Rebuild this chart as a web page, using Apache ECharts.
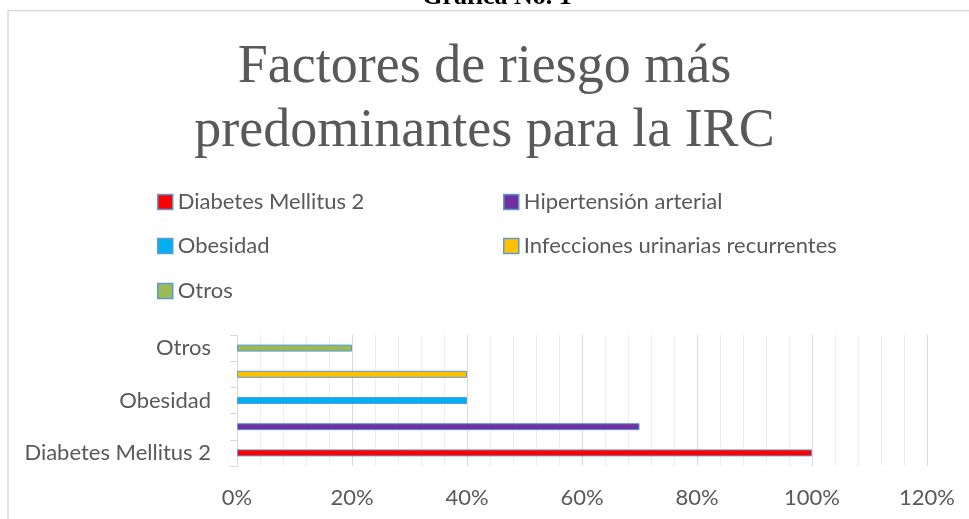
<!DOCTYPE html>
<html>
<head>
<meta charset="utf-8">
<script src="https://cdn.jsdelivr.net/npm/echarts@6/dist/echarts.min.js"></script>
<style>html,body{margin:0;padding:0;background:#fff;}#c{width:969px;height:519px;}</style>
</head>
<body>
<div id="c"></div>
<script>
const categories = ['Diabetes Mellitus 2', 'Hipertensión arterial', 'Obesidad', 'Infecciones urinarias recurrentes', 'Otros'];
const values = [1.0, 0.7, 0.4, 0.4, 0.2];
const colors = ['#ff0000', '#7030a0', '#00b0f0', '#ffc000', '#9bbb59'];
const axisMax = 1.2;
const axisStep = 0.2;
const titleText = 'Factores de riesgo más\npredominantes para la IRC';
const captionText = 'Grafica No. 1';

const FONT = 'Lato';
const TXT = '#595959';
const FS = 22;

const legendPos = [
  {left: 157, top: 191},
  {left: 503, top: 191},
  {left: 157, top: 235},
  {left: 503, top: 235},
  {left: 157, top: 280}
];

const chart = echarts.init(document.getElementById('c'), null, {renderer: 'canvas'});
chart.setOption({
  animation: false,
  backgroundColor: '#fff',
  title: {
    text: titleText,
    left: 'center',
    top: 31,
    textStyle: {fontFamily: 'Liberation Serif', fontWeight: 'normal', fontSize: 54, lineHeight: 64, color: TXT}
  },
  graphic: [
    {type: 'rect', shape: {x: 8, y: 10.5, width: 2000, height: 2000}, style: {fill: 'none', stroke: '#d9d9d9', lineWidth: 1.5}, silent: true},
    {type: 'text', x: 497, y: -3, style: {text: captionText, font: 'bold 26px "Liberation Serif"', fill: '#000', align: 'center', verticalAlign: 'middle'}}
  ],
  legend: categories.map((name, i) => ({
    data: [name],
    left: legendPos[i].left,
    top: legendPos[i].top,
    padding: 0,
    icon: 'rect',
    itemWidth: 15,
    itemHeight: 15,
    itemStyle: {borderColor: '#5b9bd5', borderWidth: 1.5},
    textStyle: {fontFamily: FONT, fontSize: FS, color: TXT, lineHeight: 15},
    selectedMode: false
  })),
  grid: {left: 237, right: 42, top: 335, bottom: 53, containLabel: false},
  xAxis: {
    type: 'value',
    min: 0,
    max: axisMax,
    interval: axisStep,
    axisLine: {show: false},
    axisTick: {show: false},
    axisLabel: {margin: 21, fontFamily: FONT, fontSize: FS, color: TXT, formatter: v => Math.round(v * 100) + '%'},
    splitLine: {show: true, lineStyle: {color: '#d9d9d9', width: 1}},
    minorTick: {show: false, splitNumber: 5},
    minorSplitLine: {show: true, lineStyle: {color: '#ededed', width: 1}}
  },
  yAxis: {
    type: 'category',
    data: categories,
    axisLine: {show: true, lineStyle: {color: '#d9d9d9', width: 1}},
    axisTick: {show: true, length: 7, interval: 0, lineStyle: {color: '#d9d9d9'}},
    axisLabel: {interval: 1, margin: 26, fontFamily: FONT, fontSize: FS, color: TXT},
    splitLine: {show: false}
  },
  series: categories.map((name, i) => ({
    name: name,
    type: 'bar',
    stack: 'total',
    barWidth: 7,
    data: values.map((v, j) => (j === i ? v : '-')),
    itemStyle: {color: colors[i], borderColor: '#5b9bd5', borderWidth: 1}
  }))
});
</script>
</body>
</html>
